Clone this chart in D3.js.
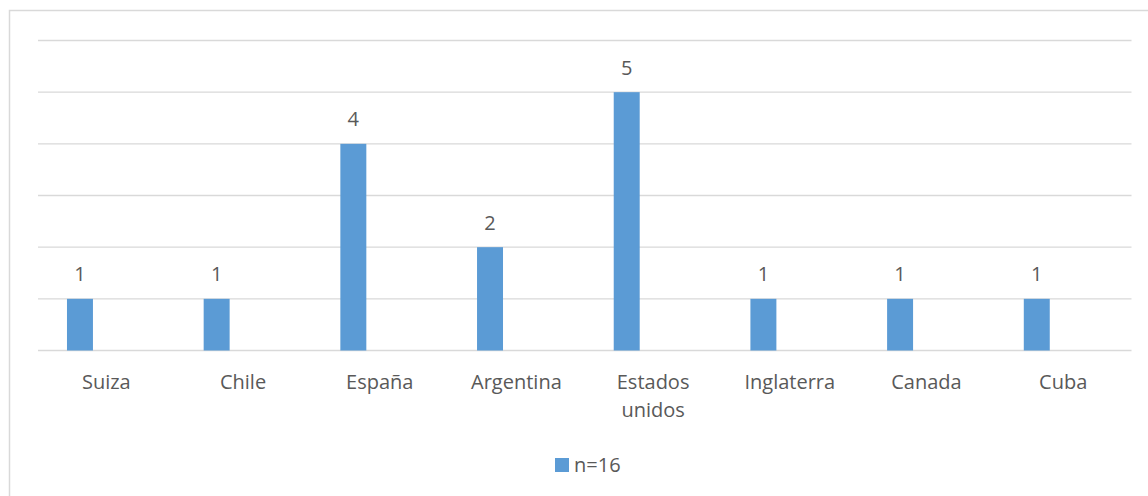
<!DOCTYPE html>
<html>
<head>
<meta charset="utf-8">
<script src="https://cdn.jsdelivr.net/npm/d3@7"></script>
<style>
  html, body { margin: 0; padding: 0; background: #fff; }
  svg { display: block; }
  text { font-family: "Open Sans", "Noto Sans", sans-serif; fill: #595959; }
</style>
</head>
<body>
<svg id="chart" width="1148" height="496"></svg>
<script>
// Countries and counts
const categories = ["Suiza", "Chile", "España", "Argentina", "Estados unidos", "Inglaterra", "Canada", "Cuba"];
const counts = [1, 1, 4, 2, 5, 1, 1, 1];
const seriesName = "n=16";
const gridTicks = [0, 1, 2, 3, 4, 5, 6];

const svg = d3.select("#chart");

// Outer chart frame (right/bottom sides run off the canvas)
svg.append("rect")
  .attr("x", 9.5).attr("y", 10.5)
  .attr("width", 1160).attr("height", 500)
  .attr("fill", "none")
  .attr("stroke", "#d9d9d9")
  .attr("stroke-width", 1.5);

const x = d3.scaleBand().domain(categories).range([38, 1131.5]).padding(0);
const y = d3.scaleLinear().domain([0, 6]).range([350.5, 40.5]);

// Horizontal gridlines
svg.append("g")
  .selectAll("line")
  .data(gridTicks)
  .join("line")
  .attr("x1", 38).attr("x2", 1131.5)
  .attr("y1", d => y(d)).attr("y2", d => y(d))
  .attr("stroke", "#d9d9d9")
  .attr("stroke-width", 1.3);

const bw = x.bandwidth();
const barOffset = bw * 0.212;
const barWidth = bw * 0.19;

const data = categories.map((c, i) => ({ c, v: counts[i] }));

// Bars
svg.append("g")
  .selectAll("rect")
  .data(data)
  .join("rect")
  .attr("x", d => x(d.c) + barOffset)
  .attr("y", d => y(d.v))
  .attr("width", barWidth)
  .attr("height", d => y(0) - y(d.v))
  .attr("fill", "#5b9bd5");

// Value labels above each bar
svg.append("g")
  .selectAll("text")
  .data(data)
  .join("text")
  .attr("x", d => x(d.c) + barOffset + barWidth / 2)
  .attr("y", d => y(d.v) - 17.5)
  .attr("text-anchor", "middle")
  .attr("font-size", 20)
  .text(d => d.v);

// Category labels, wrapping two-word names onto two lines
const catG = svg.append("g");
categories.forEach(c => {
  const words = c.split(" ");
  const lines = words.length > 1 && c.length > 10 ? words : [c];
  const t = catG.append("text")
    .attr("x", x(c) + bw / 2)
    .attr("y", 388.5)
    .attr("text-anchor", "middle")
    .attr("font-size", 20);
  lines.forEach((ln, i) => {
    t.append("tspan")
      .attr("x", x(c) + bw / 2)
      .attr("dy", i === 0 ? 0 : 28)
      .text(ln);
  });
});

// Legend
const legend = svg.append("g");
legend.append("rect")
  .attr("x", 555).attr("y", 458)
  .attr("width", 14).attr("height", 14)
  .attr("fill", "#5b9bd5");
legend.append("text")
  .attr("x", 574).attr("y", 472)
  .attr("font-size", 20)
  .text(seriesName);
</script>
</body>
</html>
